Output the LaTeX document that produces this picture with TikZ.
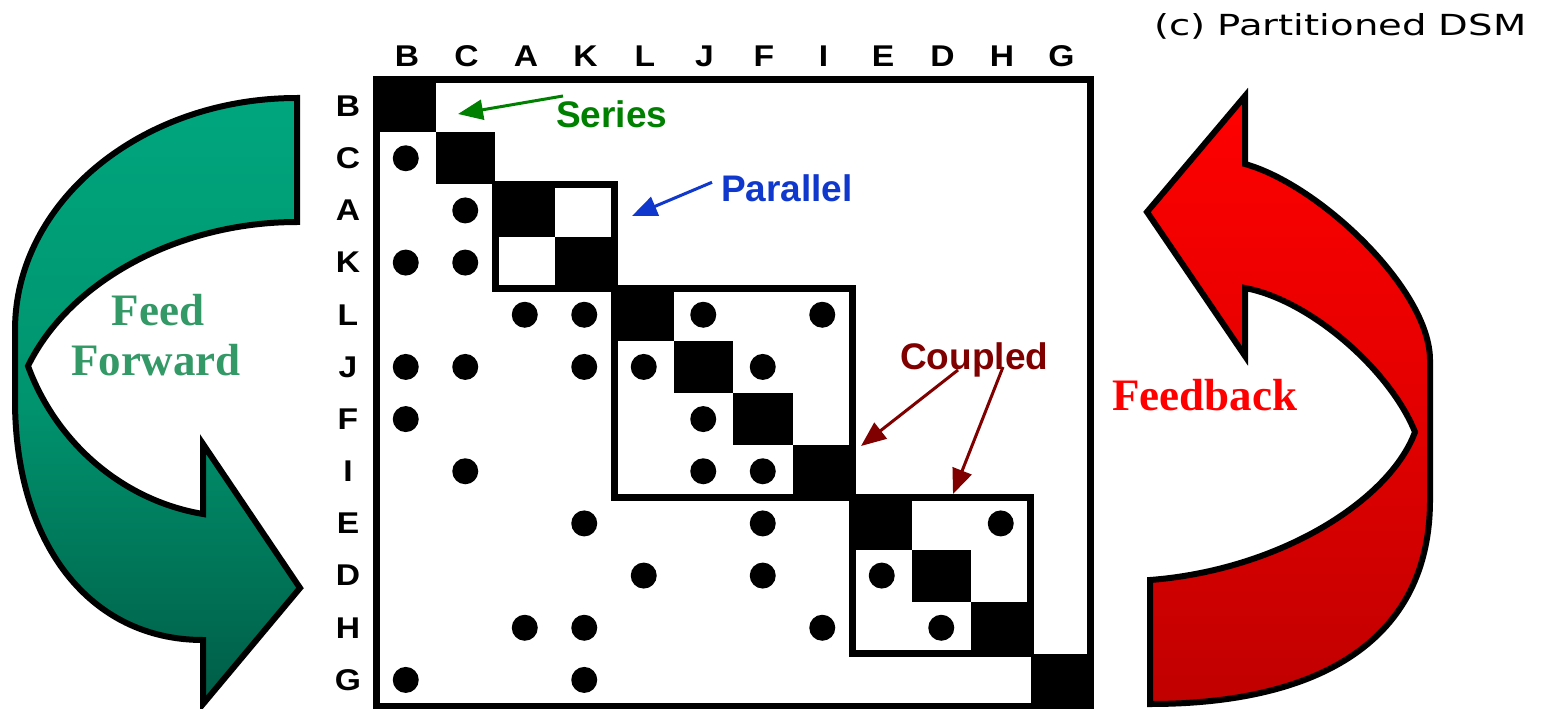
\documentclass[tikz,border=0pt]{standalone}
\usepackage{fontspec}
\setmainfont{Liberation Sans}
\newfontfamily\lblfont[FakeStretch=1.12]{Liberation Sans}
\newfontfamily\tnrfont{Liberation Serif}
\newfontfamily\comicfont[FakeStretch=1.33]{DejaVu Sans}
\usetikzlibrary{arrows.meta}
\definecolor{serGreen}{RGB}{0,128,0}
\definecolor{parBlue}{RGB}{16,56,204}
\definecolor{coupRed}{RGB}{128,0,0}
\definecolor{ffText}{RGB}{51,153,102}
\definecolor{fbText}{RGB}{255,0,0}
\definecolor{gTop}{RGB}{0,166,126}
\definecolor{gMid}{RGB}{0,148,110}
\definecolor{gBot}{RGB}{0,92,70}
\definecolor{rTop}{RGB}{255,0,0}
\definecolor{rMid}{RGB}{228,0,0}
\definecolor{rBot}{RGB}{192,0,0}
\begin{document}
\begin{tikzpicture}[x=1pt,y=-1pt,
  lbl/.style={font=\lblfont\bfseries\fontsize{30}{30}\selectfont, inner sep=0pt},
  calloutlbl/.style={font=\bfseries\fontsize{37}{37}\selectfont, inner sep=0pt, anchor=base west},
  pointer/.style={line width=3pt, -{Triangle[length=25pt,width=20pt]}},
  dsmframe/.style={draw=black, line width=7pt},
  ribbon/.style={draw=black, line width=6pt, line join=miter},
  bigword/.style={font=\tnrfont\bfseries\fontsize{45}{45}\selectfont, inner sep=0pt, anchor=base}
]
\fill[white] (0,0) rectangle (1545,709);
\useasboundingbox (0,0) rectangle (1545,709);

% ---- feed forward ribbon
\path[ribbon, top color=gTop, bottom color=gBot, middle color=gMid]
  (297,98) .. controls (141,98) and (15,202) .. (15,330)
  -- (15,400)
  .. controls (15,544) and (90,640) .. (203,640)
  -- (203,704) -- (300,588) -- (203,444) -- (203,514)
  .. controls (120,500) and (55,440) .. (28,366)
  .. controls (70,280) and (180,222) .. (297,222)
  -- cycle;

% ---- feedback ribbon
\path[ribbon, top color=rTop, bottom color=rBot, middle color=rMid]
  (1245,96) -- (1147,212) -- (1245,356) -- (1245,288)
  .. controls (1310,300) and (1390,370) .. (1415,432)
  .. controls (1390,500) and (1280,570) .. (1150,580)
  -- (1150,704)
  .. controls (1320,704) and (1430,640) .. (1430,500)
  -- (1430,360)
  .. controls (1430,290) and (1320,185) .. (1245,164)
  -- cycle;

% ---- DSM frames
\draw[dsmframe] (376,80) rectangle (1090,706);
\draw[dsmframe] (495,184.33) rectangle (614,288.67);
\draw[dsmframe] (614,288.67) rectangle (852,497.33);
\draw[dsmframe] (852,497.33) rectangle (1030.5,653.83);

% ---- diagonal cells
\foreach \k in {0,...,11}
  \fill[black] ({376+59.5*\k},{80+52.1667*\k}) rectangle ++(59.5,52.1667);

% ---- marks
\foreach \r/\c in {1/0, 2/1, 3/0, 3/1, 4/2, 4/3, 4/5, 4/7,
                   5/0, 5/1, 5/3, 5/4, 5/6, 6/0, 6/5, 7/1, 7/5, 7/6,
                   8/3, 8/6, 8/10, 9/4, 9/6, 9/8, 10/2, 10/3, 10/7, 10/9,
                   11/0, 11/3}
  \fill[black] ({405.75+59.5*\c},{106.083+52.1667*\r}) circle[radius=13pt];

% ---- labels
\foreach \n [count=\k from 0] in {B,C,A,K,L,J,F,I,E,D,H,G} {
  \node[lbl] (col\n) at ({407+59.5*\k},56) {\n};
  \node[lbl] (row\n) at (348,{106.083+52.1667*\k}) {\n};
}

% ---- callouts
\node[calloutlbl, text=serGreen] (series) at (556,127) {Series};
\coordinate (seriesTip) at (458,114);
\draw[pointer, serGreen] ([shift={(7,-4)}]series.north west) -- (seriesTip);

\node[calloutlbl, text=parBlue] (parallel) at (721,201.5) {Parallel};
\coordinate (parallelTip) at (632,216);
\draw[pointer, parBlue] ([shift={(-9,-6)}]parallel.west) -- (parallelTip);

\node[calloutlbl, text=coupRed] (coupled) at (900,369) {Coupled};
\coordinate (coupledTipA) at (861,446);
\coordinate (coupledTipB) at (953,494);
\draw[pointer, coupRed] ([shift={(58,1)}]coupled.base west) -- (coupledTipA);
\draw[pointer, coupRed] ([shift={(103,-2)}]coupled.base west) -- (coupledTipB);

% ---- big words
\node[bigword, text=ffText] (feed) at (158,325) {Feed};
\node[bigword, text=ffText] (forward) at (156,375) {Forward};
\node[bigword, anchor=base west, text=fbText] (feedback) at (1112,410) {Feedback};

% ---- title
\node[font=\comicfont\fontsize{29}{29}\selectfont, anchor=base west, inner sep=0pt] (title) at (1154,36) {(c) Partitioned DSM};
\end{tikzpicture}
\end{document}
